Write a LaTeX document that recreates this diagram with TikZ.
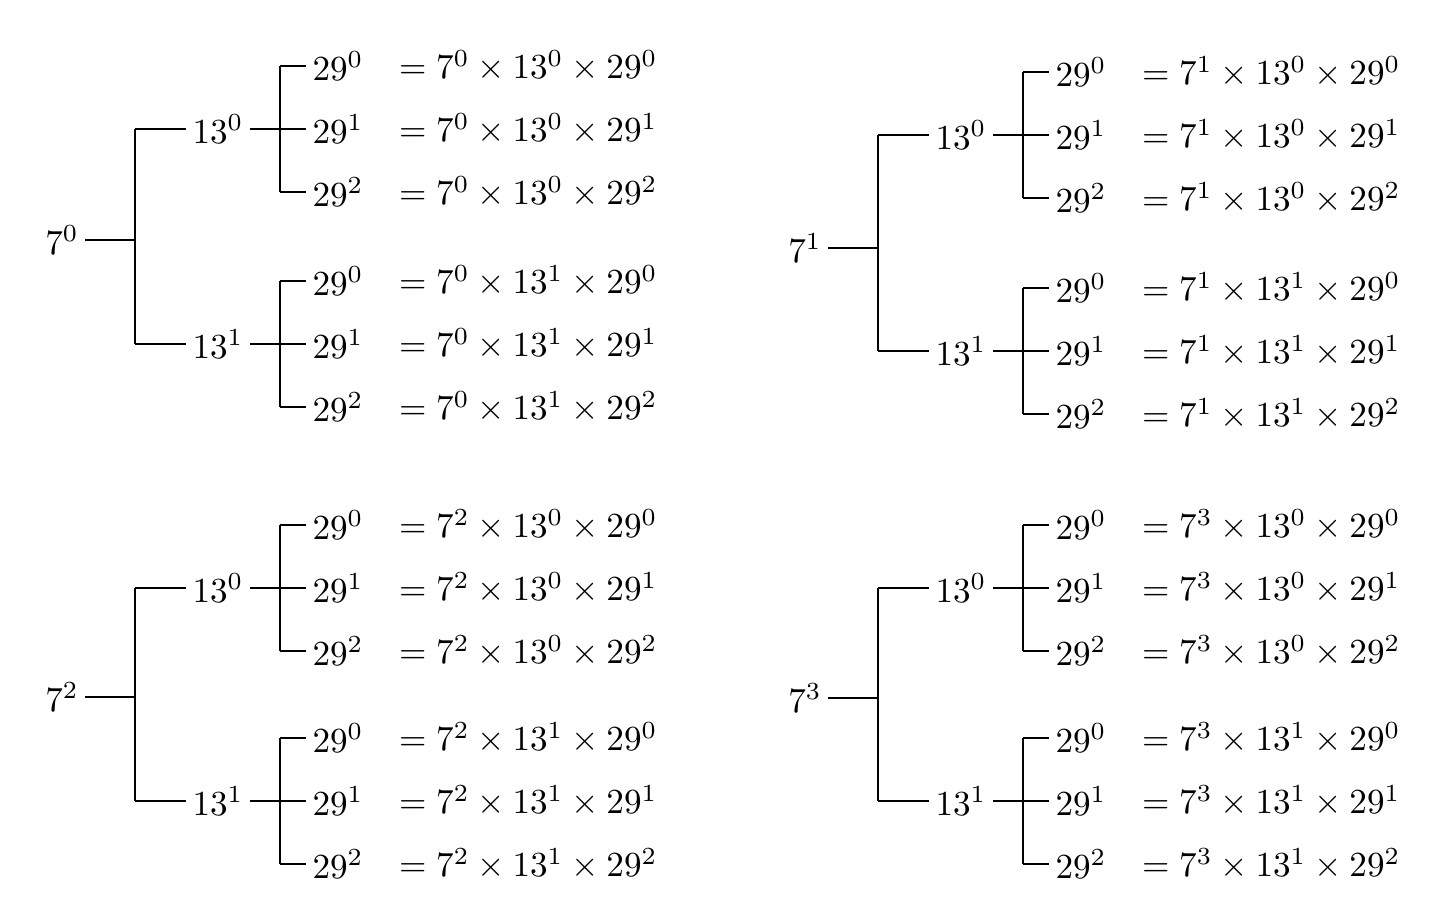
\documentclass[tikz,border=0pt]{standalone}
\begin{document}
\begin{tikzpicture}[x=0.01cm,y=-0.01cm,line width=0.6pt,
  lbl/.style={inner sep=1.5pt,font=\fontsize{10}{12}\selectfont},
  eqn/.style={anchor=west,inner sep=0pt,font=\fontsize{10}{12}\selectfont}]
\useasboundingbox (0,0) rectangle (1440,921);
\newcommand\mytree[6]{%
  % #1 prefix, #2 exponent, #3 dx, #4 root y, #5 y of 13^0, #6 y of 13^1
  \node[lbl] (#1R) at (62+#3,#4) {$7^{#2}$};
  \node[lbl] (#1A) at (218+#3,#5) {$13^{0}$};
  \node[lbl] (#1B) at (218+#3,#6) {$13^{1}$};
  \draw (#1R.east) -- (135+#3,#4);
  \draw (135+#3,#5) -- (135+#3,#6);
  \draw (135+#3,#5) -- (#1A.west);
  \draw (135+#3,#6) -- (#1B.west);
  \foreach \g/\y/\e in {A/#5/0,B/#6/1}{
    \foreach \k in {0,1,2}{
      \node[lbl] (#1\g\k) at (338+#3,\y-63+63*\k) {$29^{\k}$};
      \node[eqn] (#1\g\k e) at (398+#3,\y-63+63*\k) {$=7^{#2}\times13^{\e}\times29^{\k}$};
    }
    \draw (280+#3,\y-63) -- (280+#3,\y+63);
    \draw (280+#3,\y-63) -- (#1\g0.west);
    \draw (280+#3,\y+63) -- (#1\g2.west);
    \draw (#1\g.east) -- (#1\g1.west);
  }
}
\mytree{p}{0}{0}{240}{129}{344}
\mytree{q}{1}{743}{248}{135}{351}
\mytree{r}{2}{0}{697}{588}{801}
\mytree{s}{3}{743}{698}{588}{801}
\end{tikzpicture}
\end{document}
